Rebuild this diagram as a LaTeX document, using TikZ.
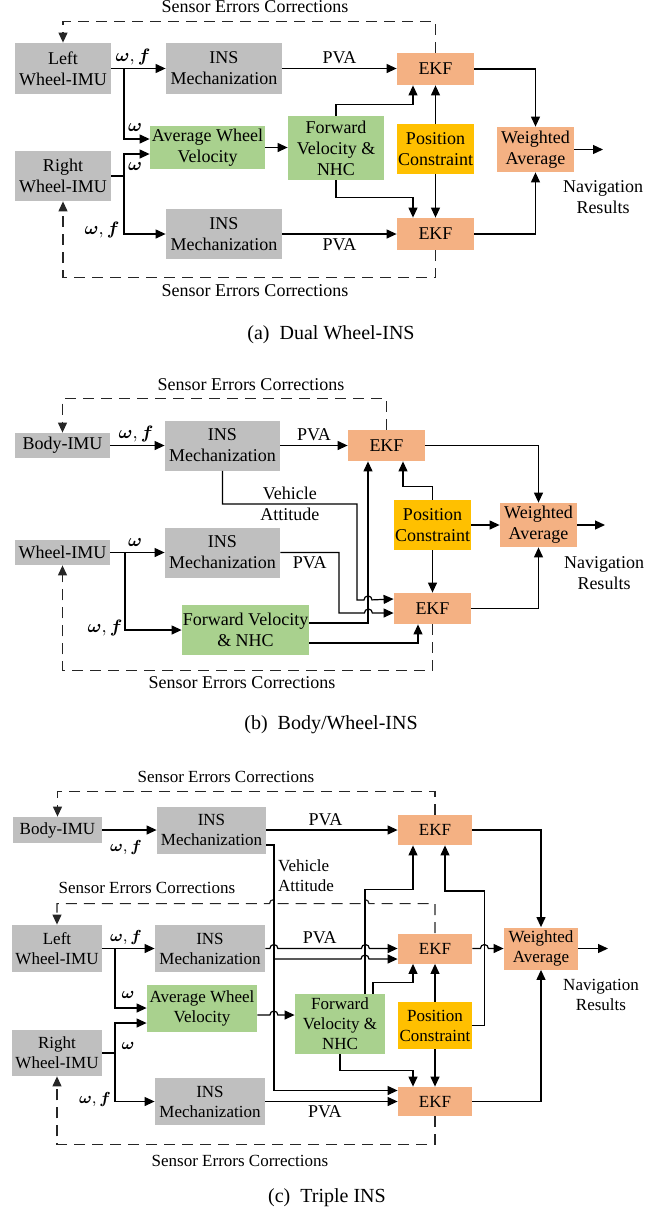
\documentclass[tikz,border=0pt]{standalone}
\usepackage{fontspec}
\setmainfont{Liberation Serif}
\usepackage{amsmath, bm}
\usetikzlibrary{arrows.meta, calc}
\definecolor{imugray}{HTML}{BFBFBF}
\definecolor{velgreen}{HTML}{A9D18E}
\definecolor{ekforange}{HTML}{F4B183}
\definecolor{posyellow}{HTML}{FFC000}
\tikzset{
  block/.style = {rectangle, inner sep=0pt, align=center, font=\fontsize{9}{10.5}\selectfont},
  imubox/.style = {block, fill=imugray},
  ekfbox/.style = {block, fill=ekforange},
  velbox/.style = {block, fill=velgreen},
  posbox/.style = {block, fill=posyellow},
  lbl/.style = {inner sep=2pt, align=center, font=\fontsize{9}{10.5}\selectfont},
  subcap/.style = {inner sep=0pt, font=\fontsize{10}{12}\selectfont},
  wire/.style = {draw, line width=0.6pt},
  arrow/.style = {draw, line width=0.6pt, -{Triangle[length=5pt, width=4.5pt]}},
  feedback/.style = {draw=black!85, dash pattern=on 5.5pt off 3.5pt},
}

\begin{document}
\begin{tikzpicture}[x=0.5pt, y=-0.5pt]
  \useasboundingbox (0,0) rectangle (670,1217);

  % (a) Dual Wheel-INS
  \node (aL)   [imubox, minimum width=48pt, minimum height=25.5pt] at (63,68.5) {Left\\Wheel-IMU};
  \node (aR)   [imubox, minimum width=48pt, minimum height=25pt] at (63,176) {Right\\Wheel-IMU};
  \node (aI1)  [imubox, minimum width=58pt, minimum height=25.5pt] at (224,68.5) {INS\\Mechanization};
  \node (aI2)  [imubox, minimum width=58pt, minimum height=25pt] at (224,234) {INS\\Mechanization};
  \node (aAvg) [velbox, minimum width=57.5pt, minimum height=21.5pt] at (207.5,147.5) {Average Wheel\\Velocity};
  \node (aFwd) [velbox, minimum width=48pt, minimum height=32pt] at (336,148) {Forward\\Velocity \&\\NHC};
  \node (aE1)  [ekfbox, minimum width=38.5pt, minimum height=16pt] at (435.5,69) {EKF};
  \node (aE2)  [ekfbox, minimum width=38.5pt, minimum height=16pt] at (435.5,234) {EKF};
  \node (aPC)  [posbox, minimum width=38.5pt, minimum height=25pt] at (435.5,149) {Position\\Constraint};
  \node (aWA)  [ekfbox, minimum width=38.5pt, minimum height=22.5pt] at (535.5,149.5) {Weighted\\Average};
  \node (aNav) [lbl] at (603,197) {Navigation\\Results};
  \node (aTop) [lbl] at (255,7) {Sensor Errors Corrections};
  \node (aBot) [lbl] at (255,291) {Sensor Errors Corrections};
  \node (aWf1) [lbl] at (133,57) {$\bm{\omega}, \bm{f}$};
  \node (aW1)  [lbl] at (135,127) {$\bm{\omega}$};
  \node (aW2)  [lbl] at (135,166) {$\bm{\omega}$};
  \node (aWf2) [lbl] at (102,230) {$\bm{\omega}, \bm{f}$};
  \node (aCap) [subcap] at (331,335) {(a)\enspace Dual Wheel-INS};
  \coordinate (aJ1) at (124,68.5);
  \coordinate (aJ2) at (124,176);
  \coordinate (aOut) at (603,149.5);

  \draw [arrow] (aL) -- (aI1);
  \draw [arrow] (aJ1) |- ($(aAvg.west)+(0,-8.5)$);
  \draw [wire] (aR) -- (aJ2);
  \draw [arrow] (aJ2) |- ($(aAvg.west)+(0,6.5)$);
  \draw [arrow] (aJ2) |- (aI2);
  \draw [arrow] (aAvg.east) -- (aAvg.east -| aFwd.west);
  \draw [arrow] (aI1.east) -- node [lbl, above] {PVA} (aI1.east -| aE1.west);
  \draw [arrow] (aI2.east) -- node [lbl, below] {PVA} (aI2.east -| aE2.west);
  \draw [arrow] (aFwd.north) -- ++(0,-11) -| ($(aE1.south)+(-22.5,0)$);
  \draw [arrow] (aFwd.south) -- ++(0,17) -| ($(aE2.north)+(-22.5,0)$);
  \draw [arrow] (aPC) -- (aE1);
  \draw [arrow] (aPC) -- (aE2);
  \draw [arrow] (aE1) -| (aWA);
  \draw [arrow] (aE2) -| (aWA);
  \draw [arrow] (aWA) -- (aOut);
  \draw [arrow, feedback] (aE1.north) -- ++(0,-31) -| (aL.north);
  \draw [arrow, feedback] (aE2.south) -- ++(0,27) -| (aR.south);

  % (b) Body/Wheel-INS
  \node (bB)   [imubox, minimum width=47.5pt, minimum height=12.5pt] at (62.5,445.5) {Body-IMU};
  \node (bI1)  [imubox, minimum width=57.5pt, minimum height=25pt] at (222.5,445.5) {INS\\Mechanization};
  \node (bE1)  [ekfbox, minimum width=38.5pt, minimum height=15.5pt] at (386.5,445.5) {EKF};
  \node (bW)   [imubox, minimum width=47.5pt, minimum height=12.5pt] at (62.5,552.5) {Wheel-IMU};
  \node (bI2)  [imubox, minimum width=57.5pt, minimum height=25pt] at (222.5,552.5) {INS\\Mechanization};
  \node (bFwd) [velbox, minimum width=63.5pt, minimum height=25pt] at (245.5,630) {Forward Velocity\\\& NHC};
  \node (bE2)  [ekfbox, minimum width=38.5pt, minimum height=15.5pt] at (432.5,608.5) {EKF};
  \node (bPC)  [posbox, minimum width=38.5pt, minimum height=25pt] at (432.5,525) {Position\\Constraint};
  \node (bWA)  [ekfbox, minimum width=38.5pt, minimum height=22pt] at (538.5,525) {Weighted\\Average};
  \node (bNav) [lbl] at (604,573) {Navigation\\Results};
  \node (bTop) [lbl] at (251,385) {Sensor Errors Corrections};
  \node (bBot) [lbl] at (242,683) {Sensor Errors Corrections};
  \node (bWf1) [lbl] at (136,434) {$\bm{\omega}, \bm{f}$};
  \node (bW1)  [lbl] at (135,542) {$\bm{\omega}$};
  \node (bWf2) [lbl] at (105,628) {$\bm{\omega}, \bm{f}$};
  \node (bCap) [subcap] at (331,725) {(b)\enspace Body/Wheel-INS};
  \coordinate (bJ) at (125,552.5);
  \coordinate (bOut) at (605,525);

  \draw [arrow] (bB) -- (bI1);
  \draw [arrow] (bI1) -- node [lbl, above] {PVA} (bE1);
  \draw [arrow] (bI1.south) -- ++(0,33) -- node [lbl] {Vehicle\\Attitude} ++(134.5,0) -- ++(0,96)
    -- ++(7,0) arc[start angle=180, end angle=0, radius=2pt] -- ($(bE2.west)+(0,-9.5)$);
  \draw [arrow] (bW) -- (bI2);
  \draw [arrow] (bI2.east) -- node [lbl, below] {PVA} ++(58.5,0) -- ++(0,60.5)
    -- ++(25.5,0) arc[start angle=180, end angle=0, radius=2pt] -- ($(bE2.west)+(0,4.5)$);
  \draw [arrow] (bJ) |- (bFwd);
  \draw [arrow] ($(bFwd.east)+(0,-7)$) -| ($(bE1.south)+(-18.5,0)$);
  \draw [arrow] ($(bFwd.east)+(0,13)$) -| ($(bE2.south)+(-14.5,0)$);
  \draw [arrow] (bPC.north) -- ++(0,-13) -| ($(bE1.south)+(16.5,0)$);
  \draw [arrow] (bPC) -- (bE2);
  \draw [arrow] (bPC) -- (bWA);
  \draw [arrow] (bE1) -| (bWA);
  \draw [arrow] (bE2) -| (bWA);
  \draw [arrow] (bWA) -- (bOut);
  \draw [arrow, feedback] (bE1.north) -- ++(0,-31) -| (bB.north);
  \draw [arrow, feedback] (bE2.south) -- ++(0,46) -| (bW.south);

  % (c) Triple INS
  \begin{scope}[block/.append style={font=\fontsize{8.5}{10}\selectfont},
                lbl/.append style={font=\fontsize{8.5}{10}\selectfont}]
  \node (cB)   [imubox, minimum width=44.5pt, minimum height=13pt] at (57.5,830) {Body-IMU};
  \node (cI1)  [imubox, minimum width=54.5pt, minimum height=23.5pt] at (211.5,830) {INS\\Mechanization};
  \node (cE1)  [ekfbox, minimum width=37pt, minimum height=15pt] at (435,830) {EKF};
  \node (cL)   [imubox, minimum width=45pt, minimum height=23.5pt] at (57,948.5) {Left\\Wheel-IMU};
  \node (cI2)  [imubox, minimum width=55pt, minimum height=23.5pt] at (210,948.5) {INS\\Mechanization};
  \node (cE2)  [ekfbox, minimum width=37pt, minimum height=15pt] at (435,948.5) {EKF};
  \node (cAvg) [velbox, minimum width=55pt, minimum height=23.5pt] at (202,1008) {Average Wheel\\Velocity};
  \node (cR)   [imubox, minimum width=45pt, minimum height=23pt] at (57,1053) {Right\\Wheel-IMU};
  \node (cI3)  [imubox, minimum width=55pt, minimum height=23.5pt] at (210,1101.5) {INS\\Mechanization};
  \node (cE3)  [ekfbox, minimum width=37pt, minimum height=14.5pt] at (435,1101.5) {EKF};
  \node (cFwd) [velbox, minimum width=45pt, minimum height=30pt] at (340,1024) {Forward\\Velocity \&\\NHC};
  \node (cPC)  [posbox, minimum width=37pt, minimum height=23.5pt] at (435,1025.5) {Position\\Constraint};
  \node (cWA)  [ekfbox, minimum width=37pt, minimum height=21pt] at (541,948.5) {Weighted\\Average};
  \node (cNav) [lbl] at (601,995) {Navigation\\Results};
  \node (cTop) [lbl] at (226,777) {Sensor Errors Corrections};
  \node (cMid) [lbl] at (147,888) {Sensor Errors Corrections};
  \node (cBot) [lbl] at (240,1161) {Sensor Errors Corrections};
  \node (cAtt) [lbl, align=left] at (306,876) {Vehicle\\Attitude};
  \node (cWf1) [lbl] at (126,847) {$\bm{\omega}, \bm{f}$};
  \node (cWf2) [lbl] at (126,937) {$\bm{\omega}, \bm{f}$};
  \node (cW1)  [lbl] at (128,995) {$\bm{\omega}$};
  \node (cW2)  [lbl] at (128,1046) {$\bm{\omega}$};
  \node (cWf3) [lbl] at (95,1099) {$\bm{\omega}, \bm{f}$};
  \end{scope}
  \node (cCap) [subcap] at (327,1198) {(c)\enspace Triple INS};
  \coordinate (cJ1) at (115,948.5);
  \coordinate (cJ2) at (115,1053);
  \coordinate (cJ3) at (273.5,959);
  \coordinate (cOut) at (608,948.5);

  \draw [arrow] (cB) -- (cI1);
  \draw [arrow] (cI1) -- node [lbl, above, pos=0.45] {PVA} (cE1);
  \draw [arrow] ($(cI1.east)+(0,15)$) -- ++(7.5,0) |- ($(cE3.west)+(0,-11)$);
  \draw [arrow] (cJ3) -- (361,959) arc[start angle=180, end angle=0, radius=2pt] -- ($(cE2.west)+(0,10.5)$);
  \draw [arrow] (cL) -- (cI2);
  \draw [arrow] (cI2.east) -- ++(4.5,0) arc[start angle=180, end angle=0, radius=2pt]
    -- node [lbl, above] {PVA} ++(83.5,0) arc[start angle=180, end angle=0, radius=2pt] -- (cI2.east -| cE2.west);
  \draw [arrow] (cJ1) |- (cAvg);
  \draw [wire] (cR) -- (cJ2);
  \draw [arrow] (cJ2) |- ($(cAvg.west)+(0,15)$);
  \draw [arrow] (cJ2) |- (cI3);
  \draw [arrow] (cI3) -- node [lbl, below, pos=0.45] {PVA} (cE3);
  \draw [arrow] ($(cAvg.east)+(0,7)$) -- ++(12.5,0) arc[start angle=180, end angle=0, radius=2pt] -- ($(cFwd.west)+(0,-9)$);
  \draw [arrow] ($(cFwd.north)+(25,0)$) -- ++(0,-104) -| ($(cE1.south)+(-22,0)$);
  \draw [arrow] ($(cFwd.north)+(33,0)$) -- ++(0,-11) -| ($(cE2.south)+(-22,0)$);
  \draw [arrow] (cFwd.south) -- ++(0,16) -| ($(cE3.north)+(-22,0)$);
  \draw [arrow] (cPC) -- (cE2);
  \draw [arrow] (cPC) -- (cE3);
  \draw [arrow] (cPC.east) -- ++(12,0) -- ++(0,-134.5) -| ($(cE1.south)+(10,0)$);
  \draw [arrow] (cE1) -| (cWA);
  \draw [arrow] (cE2.east) -- ++(8,0) arc[start angle=180, end angle=0, radius=2pt] -- (cWA);
  \draw [arrow] (cE3) -| (cWA);
  \draw [arrow] (cWA) -- (cOut);
  \draw [arrow, feedback] (cE1.north) -- ++(0,-23) -| (cB.north);
  \draw [arrow, feedback] (cE2.north) -- ++(0,-29.5) -- ++(-66,0) arc[start angle=0, end angle=180, radius=2pt]
    -- ++(-83.5,0) arc[start angle=0, end angle=180, radius=2pt] -| (cL.north);
  \draw [arrow, feedback] (cE3.south) -- ++(0,28) -| (cR.south);

\end{tikzpicture}
\end{document}
